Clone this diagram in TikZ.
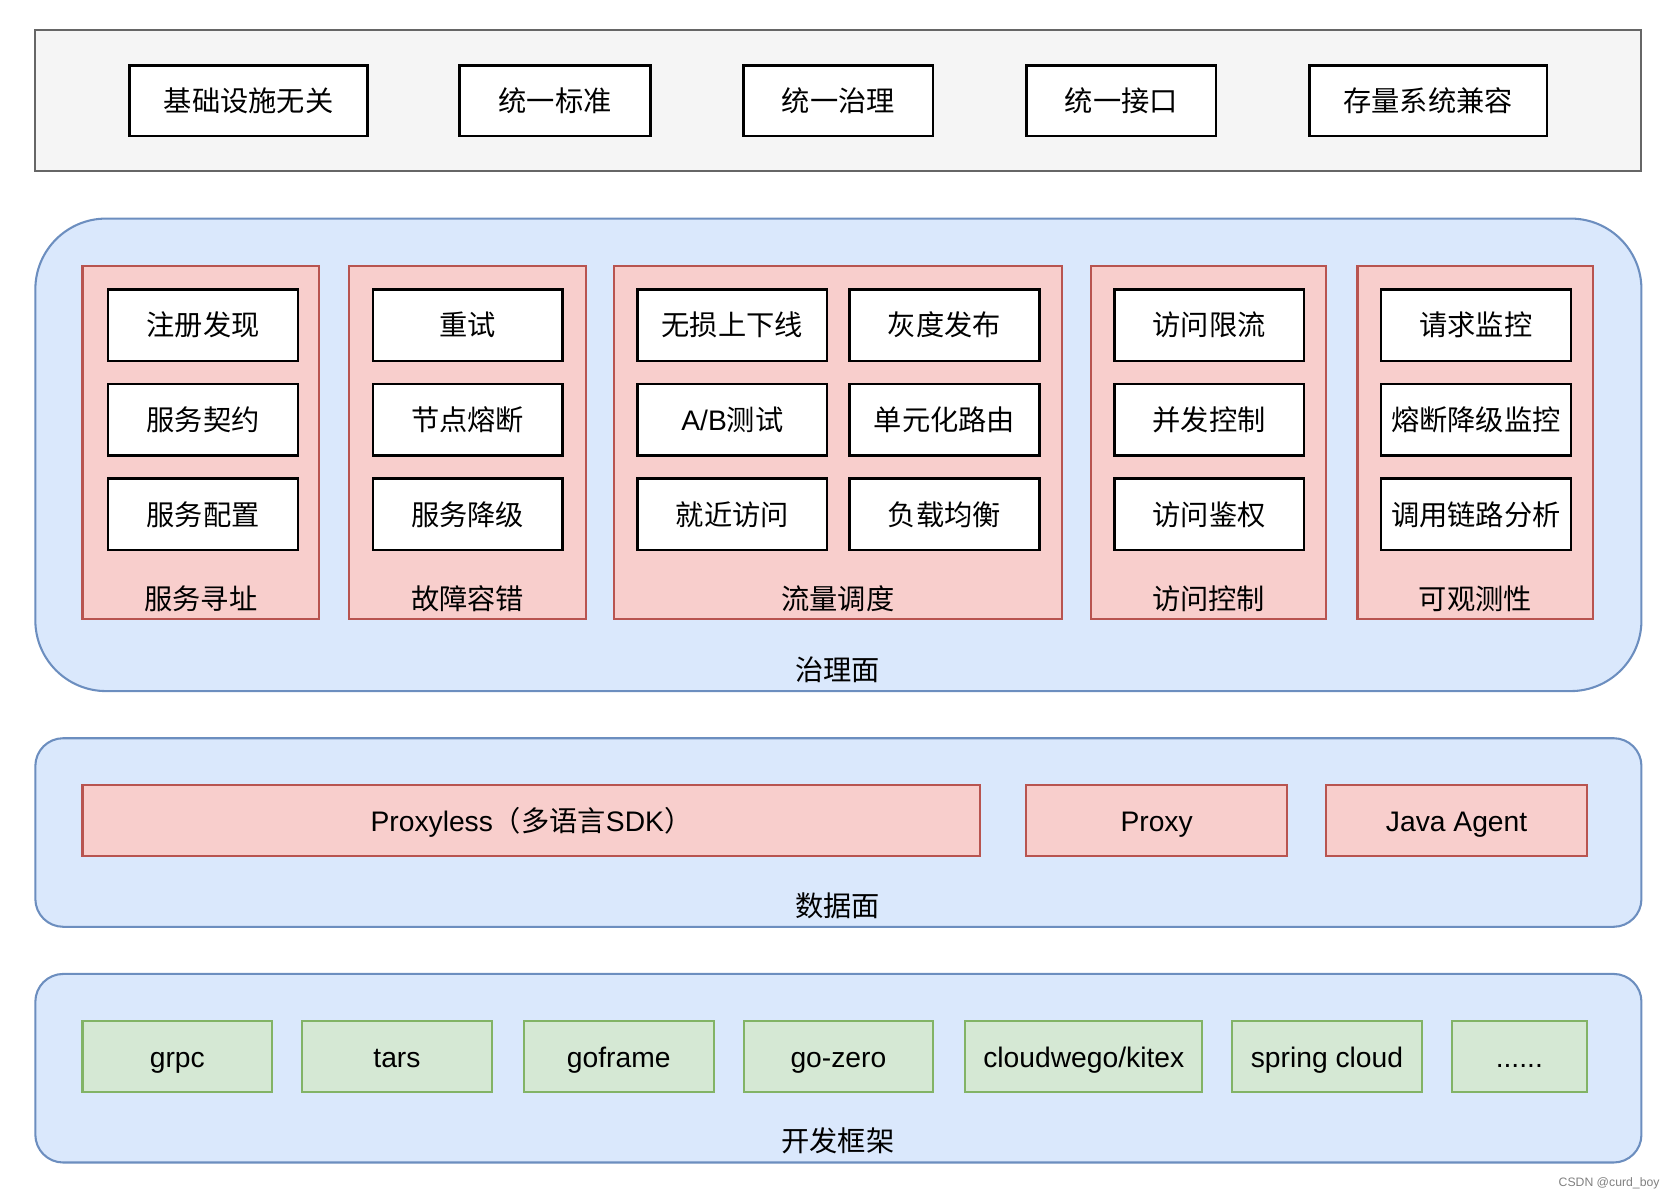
\documentclass[tikz,border=0pt]{standalone}
\usepackage{fontspec}
\setmainfont{Noto Sans CJK SC}
\newfontfamily\latin{Liberation Sans}
\usetikzlibrary{positioning}
\definecolor{grayFill}{HTML}{F5F5F5}
\definecolor{grayLine}{HTML}{666666}
\definecolor{blueFill}{HTML}{DAE8FC}
\definecolor{blueLine}{HTML}{6C8EBF}
\definecolor{redFill}{HTML}{F8CECC}
\definecolor{redLine}{HTML}{B85450}
\definecolor{greenFill}{HTML}{D5E8D4}
\definecolor{greenLine}{HTML}{82B366}
\tikzstyle{goal} = [rectangle, line width=1.3pt, draw=black, fill=white, minimum height=13.2mm, text centered]
\tikzstyle{item} = [rectangle, line width=1.3pt, draw=black, fill=white, minimum width=35.4mm, minimum height=13.4mm, text centered]
\tikzstyle{group} = [rectangle, line width=1.1pt, draw=redLine, fill=redFill, minimum height=66mm]
\tikzstyle{plane} = [rectangle, rounded corners=5.2mm, line width=1.1pt, draw=blueLine, fill=blueFill, minimum width=299.8mm, minimum height=35.2mm]
\tikzstyle{agent} = [rectangle, line width=1.1pt, draw=redLine, fill=redFill, minimum width=48.6mm, minimum height=13.2mm, text height=13.5pt, text depth=2pt, font=\latin]
\tikzstyle{framework} = [rectangle, line width=1.1pt, draw=greenLine, fill=greenFill, minimum width=35.4mm, minimum height=13.2mm, text height=13.5pt, text depth=2pt, font=\latin]

\begin{document}
\fontsize{15}{18}\selectfont
\begin{tikzpicture}[x=0.2mm, y=-0.2mm, node distance = 3.8mm, auto]
		\useasboundingbox (0,0) rectangle (1568,1120);
		% goals
		\node (Goals) [rectangle, line width=1.1pt, draw=grayLine, fill=grayFill, minimum width=299.8mm, minimum height=26.4mm] at (782.5,94) {};
		\node (InfraFree) [goal, minimum width=44.4mm] at (232,94) {基础设施无关};
		\node (UnifiedStd) [goal, minimum width=35.6mm] at (518,94) {统一标准};
		\node (UnifiedGov) [goal, minimum width=35.4mm] at (782.5,94) {统一治理};
		\node (UnifiedApi) [goal, minimum width=35.4mm] at (1046.5,94) {统一接口};
		\node (Legacy) [goal, minimum width=44.4mm] at (1333,94) {存量系统兼容};
		
		% governance plane
		\node (GovPlane) [plane, rounded corners=13.2mm, minimum height=88.2mm] at (782.5,424.5) {};
		\node (GovLabel) at (782,625) {治理面};
		\node (Addressing) [group, minimum width=44.2mm] at (187.5,413) {};
		\node (FaultTol) [group, minimum width=44.2mm] at (436.5,413) {};
		\node (Traffic) [group, minimum width=83.6mm] at (782,413) {};
		\node (Access) [group, minimum width=44mm] at (1128,413) {};
		\node (Observe) [group, minimum width=44mm] at (1377,413) {};
		\node (AddressingLabel) at (187.5,559) {服务寻址};
		\node (FaultTolLabel) at (436.5,559) {故障容错};
		\node (TrafficLabel) at (782,559) {流量调度};
		\node (AccessLabel) at (1128,559) {访问控制};
		\node (ObserveLabel) at (1377,559) {可观测性};
		
		\node (Register) [item] at (189.5,303.5) {注册发现};
		\node (Contract) [item, below = of Register] {服务契约};
		\node (Config) [item, below = of Contract] {服务配置};
		\node (Retry) [item] at (436.5,303.5) {重试};
		\node (Breaker) [item, below = of Retry] {节点熔断};
		\node (Degrade) [item, below = of Breaker] {服务降级};
		\node (Lossless) [item] at (683.5,303.5) {无损上下线};
		\node (ABTest) [item, below = of Lossless] {{\latin A/B}测试};
		\node (Nearby) [item, below = of ABTest] {就近访问};
		\node (Canary) [item] at (881.5,303.5) {灰度发布};
		\node (CellRoute) [item, below = of Canary] {单元化路由};
		\node (Balance) [item, below = of CellRoute] {负载均衡};
		\node (RateLimit) [item] at (1128.5,303.5) {访问限流};
		\node (Concurrency) [item, below = of RateLimit] {并发控制};
		\node (Auth) [item, below = of Concurrency] {访问鉴权};
		\node (ReqMonitor) [item] at (1377.5,303.5) {请求监控};
		\node (BreakerMonitor) [item, below = of ReqMonitor] {熔断降级监控};
		\node (TraceAnalysis) [item, below = of BreakerMonitor] {调用链路分析};
		
		% data plane
		\node (DataPlane) [plane] at (782.5,777) {};
		\node (DataLabel) at (782,845) {数据面};
		\node (Proxyless) [agent, minimum width=167.6mm, font=] at (496,766) {{\latin Proxyless}（多语言{\latin SDK}）};
		\node (Proxy) [agent] at (1079.5,766) {Proxy};
		\node (JavaAgent) [agent] at (1359.5,766) {Java Agent};
		
		% frameworks
		\node (DevPlane) [plane] at (782.5,997) {};
		\node (DevLabel) at (782,1065) {开发框架};
		\node (Grpc) [framework] at (165.5,986) {grpc};
		\node (Tars) [framework] at (370.5,986) {tars};
		\node (GoFrame) [framework] at (577.5,986) {goframe};
		\node (GoZero) [framework] at (782.5,986) {go-zero};
		\node (Kitex) [framework, minimum width=44.2mm] at (1011.5,986) {cloudwego/kitex};
		\node (SpringCloud) [framework] at (1238.5,986) {spring cloud};
		\node (More) [framework, minimum width=25.2mm] at (1418,986) {......};
		
		\node (Watermark) [anchor=east, text=gray, font=\latin\fontsize{6.5}{7}\selectfont] at (1558,1104) {CSDN @curd\_boy};
\end{tikzpicture}
\end{document}
